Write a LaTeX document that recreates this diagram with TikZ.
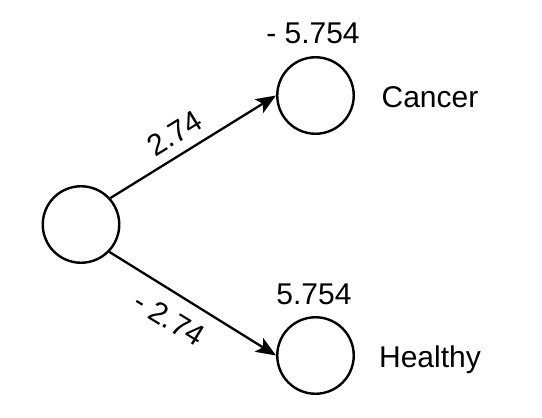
\documentclass[tikz,border=0pt]{standalone}
\usepackage{fontspec}
\setmainfont{Liberation Sans}
\usetikzlibrary{arrows.meta}
\begin{document}
\begin{tikzpicture}[x=1pt,y=-1pt,
  neuron/.style={circle,draw=black,line width=2.4pt,minimum size=76.5pt,inner sep=0pt},
  conn/.style={line width=2.3pt,-{Stealth[length=20pt,width=16pt,inset=4.5pt]}},
  txt/.style={font=\fontsize{30}{36}\selectfont,inner sep=0pt},
  elabel/.style={txt,text height=21.5pt,text depth=0pt}]
\useasboundingbox (0,0) rectangle (542,418);
\node[neuron] (in) at (81,224.5) {};
\node[neuron] (cancer) at (315.5,95.5) {};
\node[neuron] (healthy) at (315.5,355.5) {};
\draw[conn] (in.42) -- (cancer.west);
\draw[conn] (in.-44) -- (healthy.west);
\node[elabel,rotate=31.6] (w1) at (174.5,133) {2.74};
\node[elabel,rotate=-31.4] (w2) at (169.4,318.3) {- 2.74};
\node[txt,anchor=base] (b1) at (313,43.3) {- 5.754};
\node[txt,anchor=base] (b2) at (314,304) {5.754};
\node[txt,anchor=base] (l1) at (430,107.3) {Cancer};
\node[txt,anchor=base] (l2) at (430,367) {Healthy};
\end{tikzpicture}
\end{document}
